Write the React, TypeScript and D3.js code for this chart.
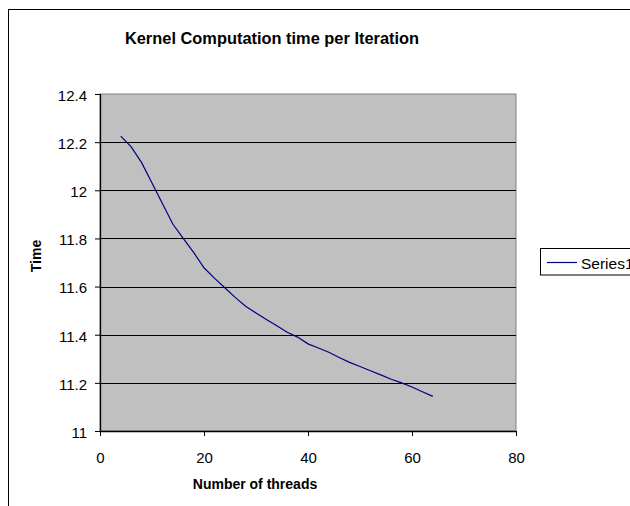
import React, { useEffect, useRef } from "react";
import * as d3 from "d3";

const threads = [4, 6, 8, 10, 12, 14, 16, 18, 20, 22, 24, 26, 28, 30, 32, 34, 36, 38, 40, 42, 44, 46, 48, 50, 52, 54, 56, 58, 60, 62, 64];
const times = [12.225, 12.18, 12.115, 12.03, 11.945, 11.86, 11.8, 11.742, 11.678, 11.635, 11.595, 11.555, 11.518, 11.49, 11.463, 11.437, 11.41, 11.39, 11.362, 11.345, 11.327, 11.305, 11.285, 11.268, 11.25, 11.233, 11.215, 11.2, 11.183, 11.163, 11.144];
const xTicks = [0, 20, 40, 60, 80];
const yTicks = [11, 11.2, 11.4, 11.6, 11.8, 12, 12.2, 12.4];
const title = "Kernel Computation time per Iteration";
const xTitle = "Number of threads";
const yTitle = "Time";
const seriesName = "Series1";

const W = 630, H = 506;
const L = 100, R = 516, T = 94, B = 431;
const FONT = "'Liberation Sans', Arial, sans-serif";

export default function App() {
  const ref = useRef<SVGSVGElement>(null);
  useEffect(() => {
    const svg = d3.select(ref.current);
    svg.selectAll("*").remove();
    const x = d3.scaleLinear().domain([0, 80]).range([L, R]);
    const y = d3.scaleLinear().domain([11, 12.4]).range([B, T]);

    // outer chart border
    svg.append("rect").attr("x", 8.5).attr("y", 9.5).attr("width", 700).attr("height", 600)
      .attr("fill", "white").attr("stroke", "black").attr("stroke-width", 1);

    // plot background
    svg.append("rect").attr("x", L).attr("y", T).attr("width", R - L).attr("height", B - T)
      .attr("fill", "#C0C0C0").attr("stroke", "#808080").attr("stroke-width", 1);

    // gridlines
    svg.append("g").selectAll("line").data(yTicks.filter(v => v > 11 && v < 12.4)).join("line")
      .attr("x1", L).attr("x2", R)
      .attr("y1", d => Math.round(y(d)) + 0.5).attr("y2", d => Math.round(y(d)) + 0.5)
      .attr("stroke", "black").attr("stroke-width", 1.2);

    // axes
    const ya = svg.append("g").attr("transform", `translate(${L},0)`)
      .call(d3.axisLeft(y).tickValues(yTicks).tickSize(5).tickPadding(8).tickFormat(d => d3.format("")(+d as number)));
    ya.select(".domain").attr("stroke", "black").attr("stroke-width", 1.3).attr("d", `M0.5,${T}V${B}`);
    ya.selectAll(".tick line").attr("stroke", "black");
    ya.selectAll("text").attr("font-family", FONT).attr("font-size", 15).attr("fill", "black").attr("dy", "0.42em");

    const xa = svg.append("g").attr("transform", `translate(0,${B})`)
      .call(d3.axisBottom(x).tickValues(xTicks).tickSize(5).tickPadding(16).tickFormat(d => String(d)));
    xa.select(".domain").attr("stroke", "black").attr("stroke-width", 1.3).attr("d", `M${L},0.5H${R}`);
    xa.selectAll(".tick line").attr("stroke", "black");
    xa.selectAll("text").attr("font-family", FONT).attr("font-size", 15).attr("fill", "black");

    // series line
    const line = d3.line<number>().x((_, i) => x(threads[i])).y(d => y(d));
    svg.append("path").datum(times).attr("d", line).attr("fill", "none")
      .attr("stroke", "#000080").attr("stroke-width", 1.2);

    // titles
    svg.append("text").attr("x", 272).attr("y", 44).attr("text-anchor", "middle")
      .attr("font-family", FONT).attr("font-size", 16.4).attr("font-weight", "bold").text(title);
    svg.append("text").attr("x", 255).attr("y", 489).attr("text-anchor", "middle")
      .attr("font-family", FONT).attr("font-size", 14).attr("font-weight", "bold").text(xTitle);
    svg.append("text").attr("transform", `translate(41,256) rotate(-90)`).attr("text-anchor", "middle")
      .attr("font-family", FONT).attr("font-size", 14).attr("font-weight", "bold").text(yTitle);

    // legend
    svg.append("rect").attr("x", 540.5).attr("y", 248.5).attr("width", 120).attr("height", 26.5)
      .attr("fill", "white").attr("stroke", "black").attr("stroke-width", 1);
    svg.append("line").attr("x1", 547).attr("x2", 577).attr("y1", 262.5).attr("y2", 262.5)
      .attr("stroke", "#000080").attr("stroke-width", 1.2);
    svg.append("text").attr("x", 581).attr("y", 268.5).attr("font-family", FONT).attr("font-size", 15.5)
      .text(seriesName);
  }, []);
  return (
    <svg ref={ref} width={W} height={H} style={{ position: "absolute", left: 0, top: 0, background: "white" }} />
  );
}
